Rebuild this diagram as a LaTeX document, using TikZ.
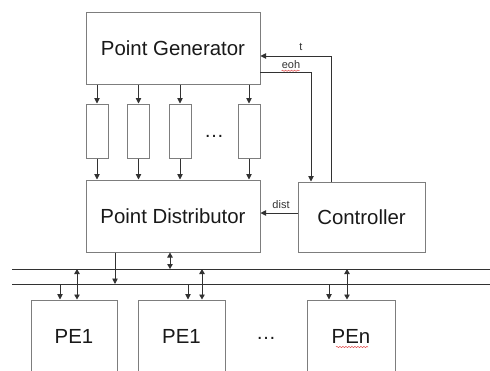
\documentclass[tikz,border=0pt]{standalone}
\usepackage{fontspec}
\setmainfont{Liberation Sans}
\usetikzlibrary{arrows.meta,decorations.pathmorphing}
\definecolor{boxgray}{RGB}{125,125,125}
\definecolor{wiregray}{RGB}{50,50,50}
\definecolor{inkdark}{RGB}{25,25,25}
\definecolor{spellred}{RGB}{225,70,70}
\begin{document}
\begin{tikzpicture}[x=1pt,y=-1pt,
  blk/.style={draw=boxgray, line width=1pt, fill=white, inner sep=0pt,
    text=inkdark, font=\fontsize{20.4}{24}\selectfont},
  fifo/.style={draw=boxgray, line width=1pt, inner sep=0pt,
    minimum width=22pt, minimum height=54pt},
  wire/.style={draw=wiregray, line width=0.9pt},
  arr/.style={wire, -{Triangle[length=5.5pt,width=5.5pt]}},
  darr/.style={wire, {Triangle[length=5pt,width=5.5pt]}-{Triangle[length=5pt,width=5.5pt]}},
  sig/.style={text=wiregray, font=\fontsize{11}{13}\selectfont, inner sep=0pt},
  squiggle/.style={draw=spellred, line width=0.5pt,
    decorate, decoration={snake, amplitude=0.6pt, segment length=3pt}}]
\useasboundingbox (0,0) rectangle (490,370);
\clip (0,0) rectangle (490,370);

% main blocks
\node[blk, minimum width=174pt, minimum height=72pt] (pg)  at (173,48)  {Point Generator};
\node[blk, minimum width=174pt, minimum height=72pt] (pd)  at (173,216) {Point Distributor};
\node[blk, minimum width=127pt, minimum height=70pt] (ctl) at (361.5,217) {Controller};

% buffers between generator and distributor
\node[fifo] (f1) at (97,131)  {};
\node[fifo] (f2) at (138.5,131) {};
\node[fifo] (f3) at (180,131) {};
\node[fifo] (f4) at (249,131) {};
\node[text=inkdark, font=\fontsize{20}{24}\selectfont] (fdots) at (214,136) {…};

\foreach \f in {f1,f2,f3,f4} {
  \draw[arr] (pg.south -| \f) -- (\f.north);
  \draw[arr] (\f.south) -- (pd.north -| \f);
}

% control signals
\coordinate (tfoot) at (331,182);
\coordinate (tknee) at (331,56);
\draw[arr] (tfoot) -- (tknee) -- (tknee -| pg.east);
\node[sig] (tlab) at (301,47) {t};

\coordinate (eohs) at (260,72);
\coordinate (eknee) at (311,72);
\draw[arr] (eohs) -- (eknee) -- (eknee |- ctl.north);
\node[sig] (eohlab) at (291,65) {eoh};
\draw[squiggle] (eohlab.south west) ++(0,1.5) -- ++(18,0);

\coordinate (dists) at (298,213);
\draw[arr] (dists) -- (dists -| pd.east);
\node[sig] (distlab) at (281,205) {dist};

% shared bus
\coordinate (busA0) at (12,269);  \coordinate (busA1) at (490,269);
\coordinate (busB0) at (12,284);  \coordinate (busB1) at (490,284);
\draw[wire] (busA0) -- (busA1);
\draw[wire] (busB0) -- (busB1);

\coordinate (pdout) at (115,284);
\draw[arr] (pd.south -| pdout) -- (pdout);
\coordinate (pdio) at (170,269);
\draw[darr] (pd.south -| pdio) -- (pdio);

% processing elements
\node[blk, minimum width=86pt, minimum height=72pt] (pe1) at (74,336)    {PE1};
\node[blk, minimum width=87pt, minimum height=72pt] (pe2) at (181.5,336) {PE1};
\node[blk, minimum width=88pt, minimum height=72pt] (pen) at (351,336)   {PEn};
\node[text=inkdark, font=\fontsize{20}{24}\selectfont] (pedots) at (266,338) {…};
\draw[squiggle] (336,347) -- (368,347);

\coordinate (in1) at (60,284);   \coordinate (io1) at (77,269);
\coordinate (in2) at (188,284);  \coordinate (io2) at (202,269);
\coordinate (in3) at (329,284);  \coordinate (io3) at (347,269);
\draw[arr]  (in1) -- (in1 |- pe1.north);
\draw[darr] (io1) -- (io1 |- pe1.north);
\draw[arr]  (in2) -- (in2 |- pe2.north);
\draw[darr] (io2) -- (io2 |- pe2.north);
\draw[arr]  (in3) -- (in3 |- pen.north);
\draw[darr] (io3) -- (io3 |- pen.north);
\end{tikzpicture}
\end{document}
